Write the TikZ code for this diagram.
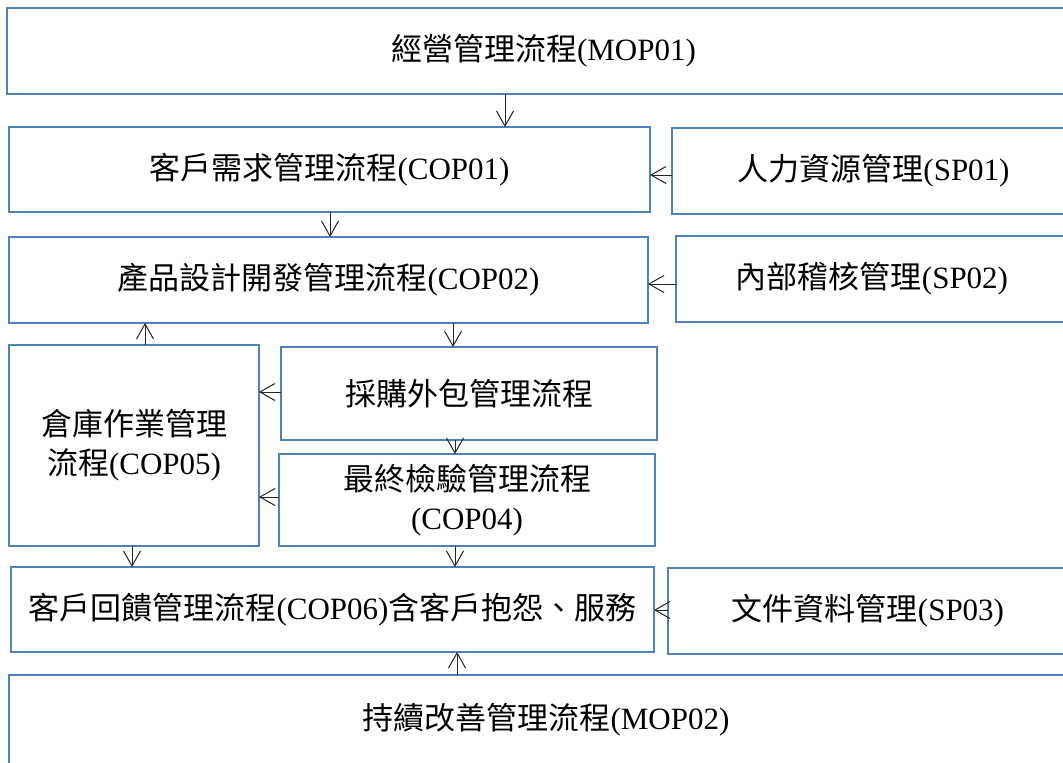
\documentclass[tikz,border=0pt]{standalone}
\usepackage{fontspec}
\setmainfont{Liberation Serif}
\newfontfamily\cjk{Noto Sans CJK TC}
\newcommand\zh[1]{{\cjk #1}}
\usetikzlibrary{arrows.meta}
\definecolor{boxblue}{RGB}{79,129,189}
\tikzset{
  box/.style={draw=boxblue, line width=1.6pt, rectangle, anchor=north west,
    inner sep=0pt, outer sep=0pt, align=center, text=black,
    font=\fontsize{31}{39}\selectfont},
  conn/.style={draw=black!85, line width=1pt, -{Straight Barb[length=15pt,width=17pt]}}
}
\begin{document}
\begin{tikzpicture}[x=1pt,y=-1pt]
\useasboundingbox (0,0) rectangle (1063,763);
\clip (0,0) rectangle (1063,763);
\fill[white] (0,0) rectangle (1063,763);
% boxes
\node[box, minimum width=1073pt, minimum height=86pt] (mop01) at (7,8) {\zh{經營管理流程}(MOP01)};
\node[box, minimum width=641pt, minimum height=85pt] (cop01) at (9,127) {\zh{客戶需求管理流程}(COP01)};
\node[box, minimum width=403pt, minimum height=86pt] (sp01) at (672,128) {\zh{人力資源管理}(SP01)};
\node[box, minimum width=639pt, minimum height=86pt] (cop02) at (9,237) {\zh{產品設計開發管理流程}(COP02)};
\node[box, minimum width=392pt, minimum height=86pt] (sp02) at (676,236) {\zh{內部稽核管理}(SP02)};
\node[box, minimum width=250pt, minimum height=201pt] (cop05) at (9,345) {\zh{倉庫作業管理}\\\zh{流程}(COP05)};
\node[box, minimum width=376pt, minimum height=93pt] (cg) at (281,347) {\zh{採購外包管理流程}};
\node[box, minimum width=376pt, minimum height=92pt] (cop04) at (279,454) {\zh{最終檢驗管理流程}\\(COP04)};
\node[box, minimum width=643pt, minimum height=85pt] (cop06) at (11,567) {\zh{客戶回饋管理流程}(COP06)\zh{含客戶抱怨、服務}};
\node[box, minimum width=400pt, minimum height=86pt] (sp03) at (668,568) {\zh{文件資料管理}(SP03)};
\node[box, minimum width=1074pt, minimum height=90pt] (mop02) at (9,675) {\zh{持續改善管理流程}(MOP02)};
% guide coordinates
\coordinate (xa) at (505,0);
\coordinate (xb) at (330,0);
\coordinate (xc) at (145,0);
\coordinate (xd) at (453,0);
\coordinate (xe) at (455,0);
\coordinate (xf) at (132,0);
\coordinate (xg) at (457,0);
\coordinate (ya) at (0,175);
\coordinate (yb) at (0,284);
\coordinate (yc) at (0,392);
\coordinate (yd) at (0,497);
\coordinate (ye) at (0,610);
% connectors
\draw[conn] (mop01.south -| xa) -- (cop01.north -| xa);
\draw[conn] (sp01.west |- ya) -- (cop01.east |- ya);
\draw[conn] (cop01.south -| xb) -- (cop02.north -| xb);
\draw[conn] (sp02.west |- yb) -- (cop02.east |- yb);
\draw[conn] (cop05.north -| xc) -- (cop02.south -| xc);
\draw[conn] (cop02.south -| xd) -- (cg.north -| xd);
\draw[conn] (cg.west |- yc) -- (cop05.east |- yc);
\draw[conn] (cg.south -| xe) -- (cop04.north -| xe);
\draw[conn] (cop04.west |- yd) -- (cop05.east |- yd);
\draw[conn] (cop05.south -| xf) -- (cop06.north -| xf);
\draw[conn] (cop04.south -| xe) -- (cop06.north -| xe);
\draw[conn] (sp03.west |- ye) -- (cop06.east |- ye);
\draw[conn] (mop02.north -| xg) -- (cop06.south -| xg);
\end{tikzpicture}
\end{document}
